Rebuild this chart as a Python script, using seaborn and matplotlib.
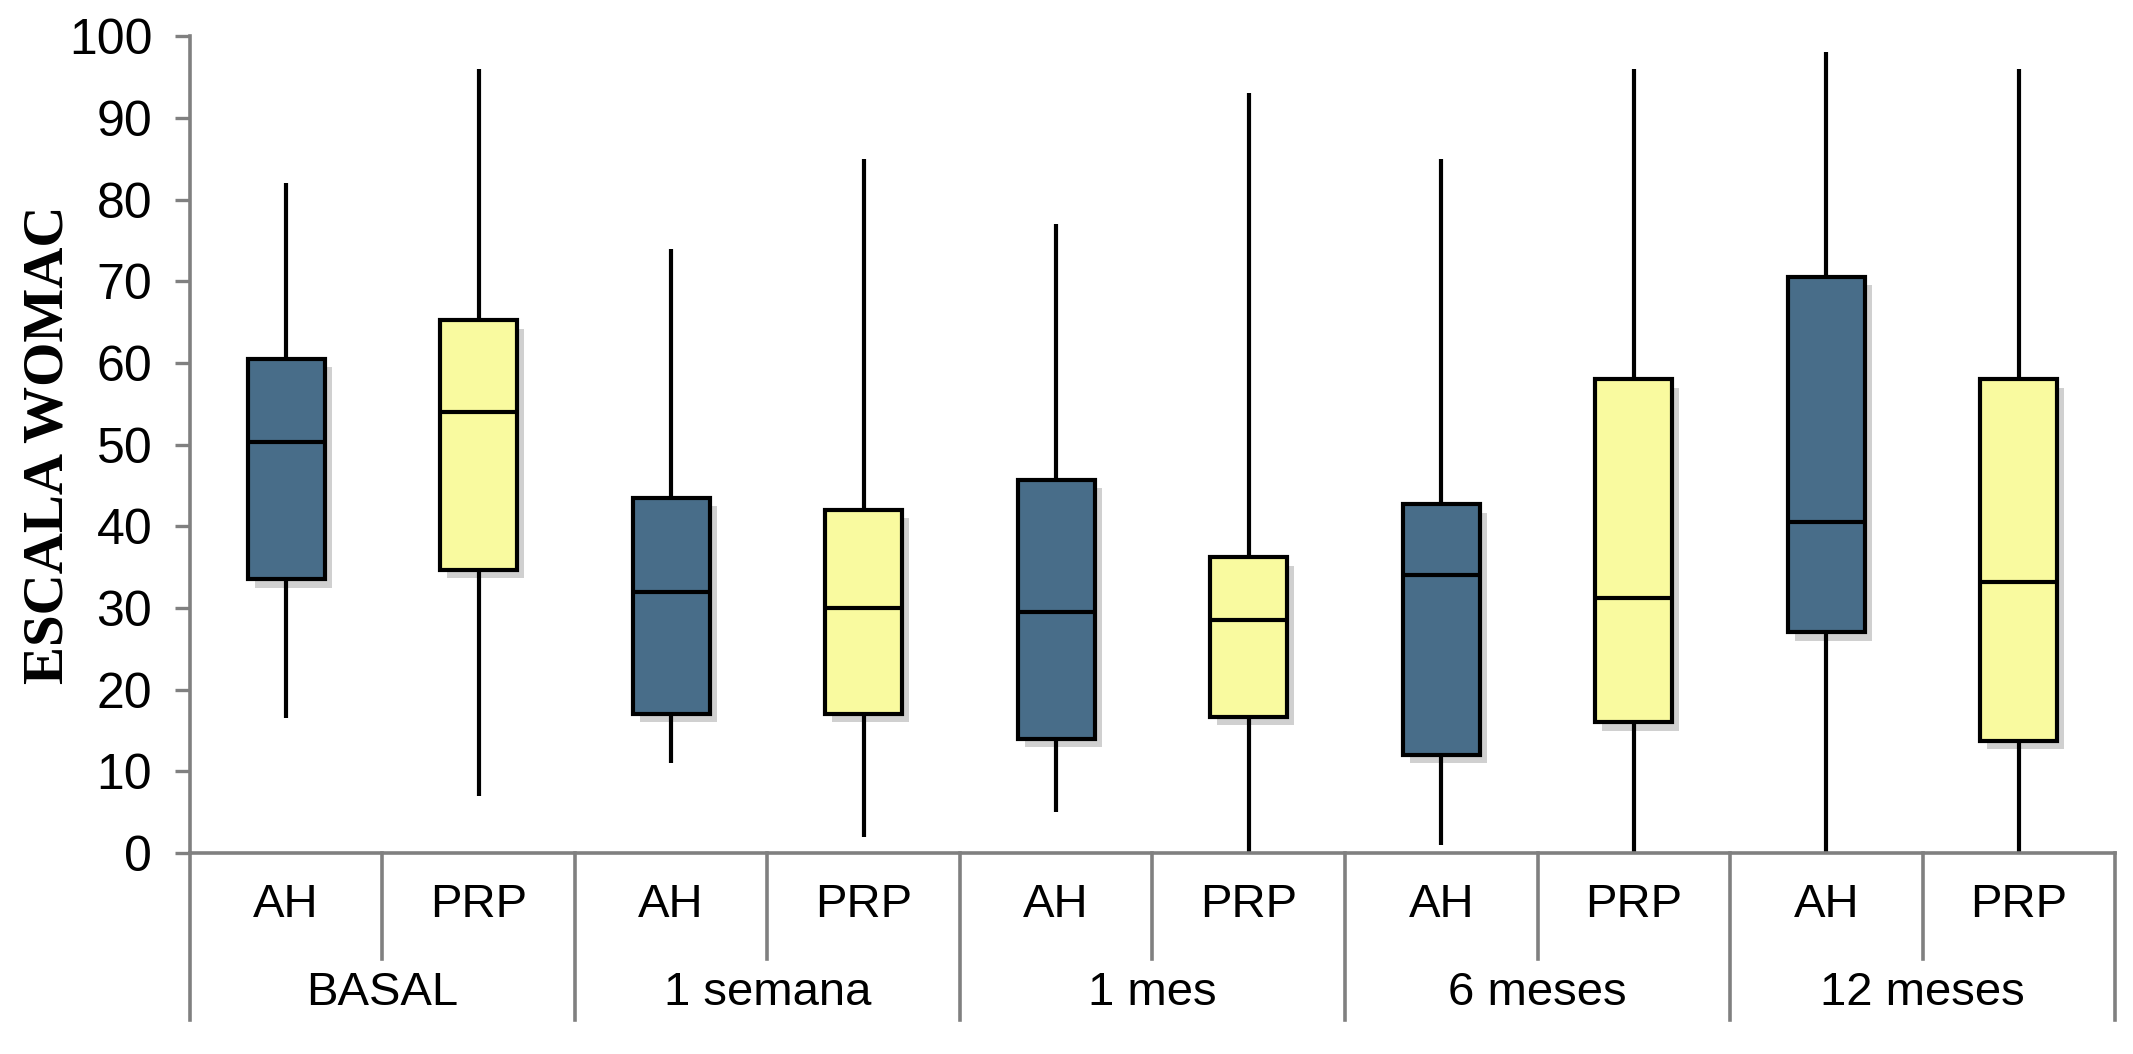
import pandas as pd
import numpy as np
import matplotlib
matplotlib.use('Agg')
import matplotlib.pyplot as plt
import matplotlib.patheffects as pe
import seaborn as sns


tiempos = ['BASAL', '1 semana', '1 mes', '6 meses', '12 meses']
tratamientos = ['AH', 'PRP']

# min, Q1, mediana, Q3, max
ah_min = [16.5, 11, 5, 1, 0]
ah_q1 = [33.5, 17, 14, 12, 27]
ah_med = [50.3, 32, 29.5, 34, 40.5]
ah_q3 = [60.5, 43.5, 45.7, 42.7, 70.5]
ah_max = [82, 74, 77, 85, 98]

prp_min = [7, 2, 0, 0, 0]
prp_q1 = [34.7, 17, 16.7, 16, 13.7]
prp_med = [54, 30, 28.5, 31.2, 33.2]
prp_q3 = [65.2, 42, 36.2, 58, 58]
prp_max = [96, 85, 93, 96, 96]

colores = {'AH': '#486d89', 'PRP': '#f9fa9f'}


def build_frame():
    rows = []
    stats = {'AH': (ah_min, ah_q1, ah_med, ah_q3, ah_max),
             'PRP': (prp_min, prp_q1, prp_med, prp_q3, prp_max)}
    for trat, cols in stats.items():
        for i, t in enumerate(tiempos):
            # five points -> quartiles land exactly on the read values
            for v in (c[i] for c in cols):
                rows.append({'tiempo': t, 'tratamiento': trat, 'valor': v})
    return pd.DataFrame(rows)


df = build_frame()

fig = plt.figure(figsize=(21.33, 10.54), dpi=100)
ax = fig.add_axes([0.089, 0.1907, 0.9026, 0.775])

sns.boxplot(data=df, x='tiempo', y='valor', hue='tratamiento', order=tiempos,
            hue_order=tratamientos, palette=colores, saturation=1, whis=(0, 100),
            showcaps=False, fliersize=0, width=1.0, gap=0.6, linewidth=3.0,
            linecolor='black', legend=False, ax=ax)

for p in ax.patches:
    p.set_path_effects([pe.SimplePatchShadow(offset=(5, -6), shadow_rgbFace='#666666', alpha=0.3),
                        pe.Normal()])

gris = '#808080'
ax.set_xlim(-0.5, len(tiempos) - 0.5)
ax.set_ylim(0, 100)
ax.set_yticks(range(0, 101, 10))
ax.tick_params(axis='y', length=11, width=2.4, color=gris, labelsize=36, pad=16)
ax.tick_params(axis='x', length=0, labelbottom=False)
for lab in ax.get_yticklabels():
    lab.set_fontfamily('Liberation Sans')

for s in ['top', 'right']:
    ax.spines[s].set_visible(False)
for s in ['left', 'bottom']:
    ax.spines[s].set_color(gris)
    ax.spines[s].set_linewidth(2.6)

ax.set_xlabel('')
ax.set_ylabel('ESCALA WOMAC', fontsize=41, fontweight='bold', family='Liberation Serif')
ax.yaxis.set_label_coords(-0.06, 0.5)

# hierarchical category axis
trans = ax.get_xaxis_transform()
for i, t in enumerate(tiempos):
    for j, trat in enumerate(tratamientos):
        xc = i - 0.25 + 0.5 * j
        ax.text(xc, -0.064, trat, transform=trans, ha='center', va='center',
                fontsize=34, family='Liberation Sans')
    ax.text(i, -0.171, t, transform=trans, ha='center', va='center',
            fontsize=34, family='Liberation Sans')
    ax.plot([i, i], [0, -0.13], transform=trans, color=gris, lw=2.6, clip_on=False)
for b in np.arange(len(tiempos) + 1) - 0.5:
    ax.plot([b, b], [0, -0.204], transform=trans, color=gris, lw=2.6, clip_on=False)

fig.savefig('out.png', dpi=100)
